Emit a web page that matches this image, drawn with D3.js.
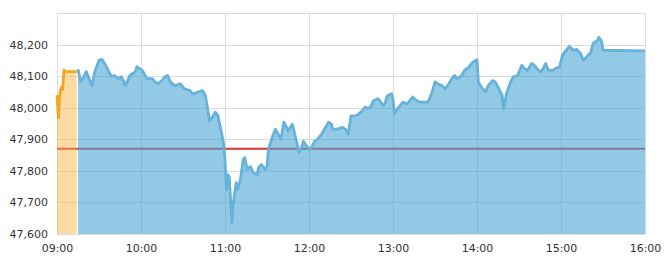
<!DOCTYPE html>
<html>
<head>
<meta charset="utf-8">
<script src="https://cdn.jsdelivr.net/npm/d3@7"></script>
<style>
  body { margin: 0; background: #fff; }
  svg { display: block; }
  .tick text { font-family: "DejaVu Sans", Verdana, sans-serif; font-size: 11px; fill: #333; }
  .grid line { stroke: #dcdcdc; stroke-width: 1; shape-rendering: crispEdges; }
  .grid .domain { display: none; }
</style>
</head>
<body>
<svg></svg>
<script>
var width = 666;
var height = 274;
var margin = {top: 13, right: 21, bottom: 40, left: 57};

// pre-open (orange) and session (blue) prices
var preOpen = [["09:00",48040],["09:01",47968],["09:02",48044],["09:03",48064],["09:04",48058],
  ["09:05",48120],["09:06",48114],["09:14",48114]];

var session = [["09:15",48122],["09:17",48082],["09:21",48114],["09:22",48102],["09:25",48070],
  ["09:27",48114],["09:30",48150],["09:32",48153],["09:34",48140],["09:36",48124],["09:39",48098],
  ["09:41",48102],["09:44",48092],["09:46",48098],["09:49",48070],["09:52",48102],["09:56",48114],
  ["09:57",48130],["09:59",48124],["10:01",48118],["10:04",48092],["10:08",48092],["10:10",48082],
  ["10:12",48076],["10:15",48086],["10:17",48098],["10:19",48102],["10:21",48082],["10:24",48070],
  ["10:28",48076],["10:31",48060],["10:35",48054],["10:37",48044],["10:41",48050],["10:44",48054],
  ["10:46",48038],["10:48",47986],["10:49",47958],["10:51",47970],["10:53",47986],["10:55",47974],
  ["10:58",47910],["10:59",47884],["11:00",47836],["11:01",47740],["11:02",47788],["11:03",47782],
  ["11:04",47708],["11:05",47635],["11:06",47700],["11:08",47763],["11:09",47740],["11:11",47772],
  ["11:13",47836],["11:14",47842],["11:16",47804],["11:18",47814],["11:20",47795],["11:23",47788],
  ["11:24",47811],["11:26",47820],["11:29",47804],["11:30",47814],["11:31",47868],["11:34",47910],
  ["11:36",47932],["11:38",47916],["11:40",47900],["11:42",47954],["11:44",47938],["11:45",47926],
  ["11:48",47948],["11:49",47932],["11:51",47894],["11:53",47859],["11:55",47878],["11:56",47894],
  ["11:59",47875],["12:00",47868],["12:02",47875],["12:04",47894],["12:06",47900],["12:09",47916],
  ["12:11",47932],["12:14",47954],["12:16",47948],["12:17",47932],["12:20",47932],["12:24",47938],
  ["12:26",47932],["12:28",47916],["12:30",47974],["12:33",47974],["12:35",47978],["12:38",47990],
  ["12:40",48002],["12:42",47998],["12:44",48002],["12:46",48022],["12:49",48028],["12:50",48026],
  ["12:53",48006],["12:54",48012],["12:56",48038],["12:59",48044],["13:00",48028],["13:01",47980],
  ["13:03",47996],["13:05",48006],["13:07",48018],["13:10",48012],["13:12",48022],["13:14",48034],
  ["13:17",48022],["13:19",48018],["13:25",48018],["13:28",48050],["13:30",48082],["13:32",48076],
  ["13:35",48070],["13:37",48060],["13:39",48070],["13:42",48092],["13:44",48102],["13:46",48092],
  ["13:49",48102],["13:51",48118],["13:54",48128],["13:56",48140],["13:59",48150],["14:00",48152],
  ["14:01",48082],["14:03",48066],["14:04",48060],["14:06",48050],["14:08",48070],["14:11",48086],
  ["14:13",48082],["14:15",48066],["14:18",48038],["14:19",47996],["14:21",48044],["14:24",48082],
  ["14:26",48098],["14:29",48102],["14:32",48134],["14:34",48124],["14:36",48118],["14:39",48140],
  ["14:41",48134],["14:44",48118],["14:46",48114],["14:49",48140],["14:51",48118],["14:54",48118],
  ["14:56",48124],["14:59",48130],["15:01",48165],["15:03",48178],["15:06",48194],["15:09",48182],
  ["15:11",48185],["15:14",48172],["15:16",48150],["15:19",48165],["15:21",48172],["15:23",48204],
  ["15:26",48213],["15:27",48223],["15:29",48210],["15:30",48182],["16:00",48180]];

var prevClose = 47870;
var yTicks = [47600, 47700, 47800, 47900, 48000, 48100, 48200, 48300];
var xTicks = ["09:00","10:00","11:00","12:00","13:00","14:00","15:00","16:00"];

var parse = d3.timeParse("%H:%M");
var fmtNum = d3.format(",");

var svg = d3.select('svg')
    .attr('width', width)
    .attr('height', height);

var w = width - margin.left - margin.right;
var h = height - margin.top - margin.bottom;

var x = d3.scaleTime()
    .domain([parse("09:00"), parse("16:00")])
    .range([0, w]);
var y = d3.scaleLinear()
    .domain([47600, 48300])
    .range([h, 0]);

var g = svg.append('g')
    .attr('transform', 'translate(' + margin.left + ',' + margin.top + ')');

// grid
g.append('g')
    .attr('class', 'grid')
    .call(d3.axisLeft(y).tickValues(yTicks).tickSize(-w).tickFormat(''));
g.append('g')
    .attr('class', 'grid')
    .attr('transform', 'translate(0,' + h + ')')
    .call(d3.axisBottom(x).tickValues(xTicks.map(parse)).tickSize(-h).tickFormat(''));

// previous close line, under the translucent areas
g.append('line')
    .attr('x1', 0)
    .attr('x2', w)
    .attr('y1', y(prevClose))
    .attr('y2', y(prevClose))
    .attr('stroke', '#dd3333')
    .attr('stroke-width', 2);

var area = d3.area()
    .x(function(d) { return x(parse(d[0])); })
    .y0(h)
    .y1(function(d) { return y(d[1]); });
var line = d3.line()
    .x(function(d) { return x(parse(d[0])); })
    .y(function(d) { return y(d[1]); });

g.append('path')
    .datum(preOpen)
    .attr('d', area)
    .attr('fill', '#f9b54a')
    .attr('fill-opacity', 0.5);
g.append('path')
    .datum(preOpen)
    .attr('d', line)
    .attr('fill', 'none')
    .attr('stroke', '#f4a622')
    .attr('stroke-width', 2.8)
    .attr('stroke-linejoin', 'round');

g.append('path')
    .datum(session)
    .attr('d', area)
    .attr('fill', '#4aa6d6')
    .attr('fill-opacity', 0.6);
g.append('path')
    .datum(session)
    .attr('d', line)
    .attr('fill', 'none')
    .attr('stroke', '#66b2da')
    .attr('stroke-width', 2.8)
    .attr('stroke-linejoin', 'round');

// axis labels
var yAxis = g.append('g')
    .call(d3.axisLeft(y).tickValues(yTicks.slice(0, -1)).tickSize(0).tickPadding(9).tickFormat(fmtNum));
yAxis.select('.domain').remove();

var xAxis = g.append('g')
    .attr('transform', 'translate(0,' + h + ')')
    .call(d3.axisBottom(x).tickValues(xTicks.map(parse)).tickSize(0).tickPadding(10).tickFormat(d3.timeFormat("%H:%M")));
xAxis.select('.domain').remove();
</script>
</body>
</html>
